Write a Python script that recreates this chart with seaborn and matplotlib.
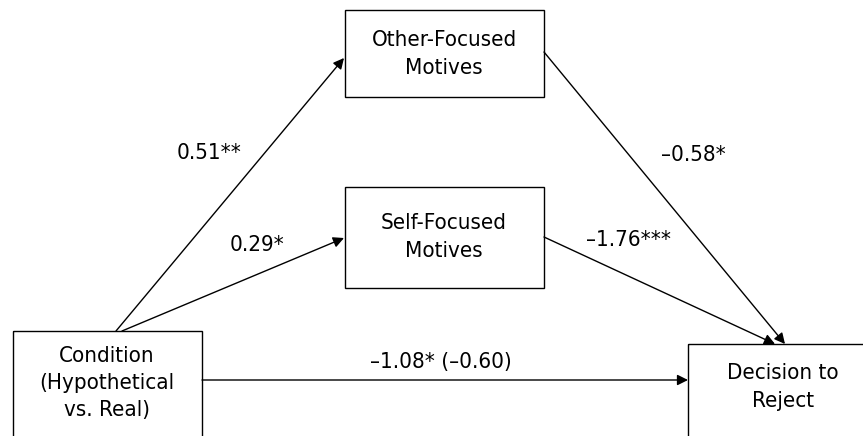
import matplotlib
matplotlib.use('Agg')
import matplotlib.pyplot as plt
from matplotlib.patches import Rectangle
import seaborn as sns

# nodes of the mediation model
nodes = ['Condition\n(Hypothetical\nvs. Real)',
         'Other-Focused\nMotives',
         'Self-Focused\nMotives',
         'Decision to\nReject']

# paths: (from, to, coefficient label)
paths_from = [0, 0, 1, 2, 0]
paths_to = [1, 2, 3, 3, 3]
coef_labels = ['0.51**', '0.29*', '\u20130.58*', '\u20131.76***', '\u20131.08* (\u20130.60)']

# layout (pixel units, y down)
box_xy = [(13, 331, 189, 140), (345, 10, 199, 87), (345, 187, 199, 101), (688, 344, 260, 140)]
path_start = [(116, 331), (122, 331), (544, 52), (544, 237), (202, 380)]
path_end = [(344, 58), (344, 238), (785, 344), (775, 344), (688, 380)]
label_xy = [(209, 153), (257, 245), (693, 155), (628, 240), (441, 362)]
text_xy = [(107, 383), (444, 54), (444, 237), (783, 387)]

sns.set_theme(style='white')
plt.rcParams['font.family'] = ['DejaVu Sans']
plt.rcParams['font.stretch'] = 'condensed'

fig = plt.figure(figsize=(8.63, 4.36), dpi=100)
ax = fig.add_axes([0, 0, 1, 1])
ax.set_xlim(0, 863)
ax.set_ylim(436, 0)
ax.axis('off')

for name, (x, y, w, h) in zip(nodes, box_xy):
    ax.add_patch(Rectangle((x, y), w, h, fill=False, ec='black', lw=1.0))

for name, (tx, ty) in zip(nodes, text_xy):
    ax.text(tx, ty, name, ha='center', va='center', fontsize=16,
            fontstretch='condensed', linespacing=1.45, color='black')

for s, e in zip(path_start, path_end):
    ax.annotate('', xy=e, xytext=s,
                arrowprops=dict(arrowstyle='-|>', color='black', lw=1.0,
                                mutation_scale=16, shrinkA=0, shrinkB=0))

for lab, (lx, ly) in zip(coef_labels, label_xy):
    ax.text(lx, ly, lab, ha='center', va='center', fontsize=16,
            fontstretch='condensed', color='black')

fig.savefig('out.png', dpi=100)
